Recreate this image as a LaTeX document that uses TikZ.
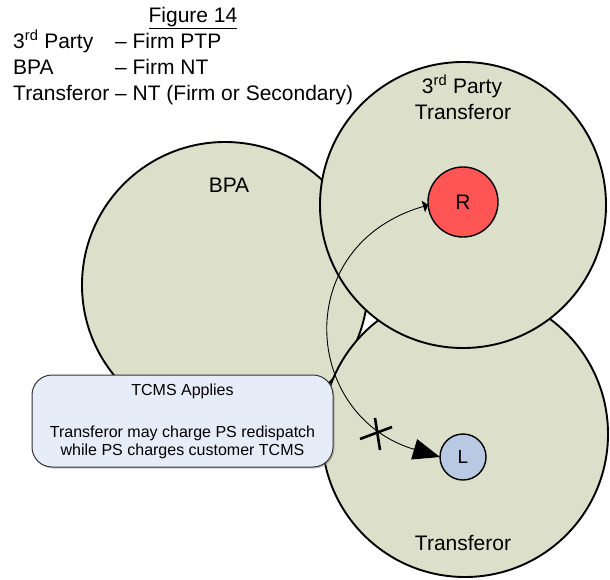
\documentclass[tikz,border=0pt]{standalone}
\usepackage{fontspec}
\setmainfont{Liberation Sans}
\usetikzlibrary{arrows.meta,shadows}
\definecolor{zonefill}{RGB}{220,224,202}
\definecolor{rfill}{RGB}{255,85,85}
\definecolor{lfill}{RGB}{185,201,227}
\definecolor{boxfill}{RGB}{231,237,248}
\begin{document}
\begin{tikzpicture}[x=1pt,y=-1pt,
  zone/.style={circle,draw=black,line width=1.9pt,fill=zonefill,minimum size=286pt,inner sep=0pt},
  txt/.style={font=\fontsize{21}{26}\selectfont,inner sep=0pt},
  small/.style={font=\fontsize{16}{18}\selectfont},
  pt/.style={circle,draw=black,line width=1.4pt,inner sep=0pt},
  callout/.style={rounded corners=20pt,draw=black!80,line width=1pt,fill=boxfill,
    minimum width=301pt,minimum height=92pt,align=center,
    drop shadow={shadow xshift=1.5pt,shadow yshift=-1.5pt,opacity=0.45}},
  conn/.style={line width=0.9pt},
  xmark/.style={line width=2.6pt}
]
\useasboundingbox (0,0) rectangle (610,579);

% zones
\node[zone] (bpa) at (225,285) {};
\node[zone] (tr) at (465,434) {};
\node[zone] (tp) at (463,205) {};

% legend text
\node[txt,anchor=base] (fig) at (193,22) {\underline{Figure 14}};
\node[txt,anchor=base west] (k1) at (13,48) {\rlap{3\textsuperscript{rd} Party}\phantom{Transferor }– Firm PTP};
\node[txt,anchor=base west] (k2) at (13,74) {\rlap{BPA}\phantom{Transferor }– Firm NT};
\node[txt,anchor=base west] (k3) at (13,100) {Transferor – NT (Firm or Secondary)};

% zone labels
\node[txt,anchor=base] (bpal) at (229,192) {BPA};
\node[txt,anchor=base] (tpa) at (462,93) {3\textsuperscript{rd} Party};
\node[txt,anchor=base] (tpb) at (463,119) {Transferor};
\node[txt,anchor=base] (trl) at (463,550) {Transferor};

% connector
\draw[conn,{Triangle[length=5pt,width=12pt]}-{Triangle[length=27pt,width=21pt]}]
  (463,202) ++(185:35pt) coordinate (rs) (rs) .. controls (290,245) and (302,416) .. (440,457) coordinate (le);

% points
\node[pt,fill=rfill,minimum size=70pt,font=\fontsize{21}{24}\selectfont] (R) at (463,202) {R};
\node[pt,fill=lfill,minimum size=46pt,font=\fontsize{19}{22}\selectfont] (L) at (463,457) {L};

% cross
\coordinate (x1) at (360,439);
\coordinate (x2) at (392,427);
\coordinate (x3) at (375,418);
\coordinate (x4) at (380,450);
\draw[xmark] (x1) -- (x2) (x3) -- (x4);

% callout
\node[callout,small] (tcms) at (182.5,421) {TCMS Applies\\[24pt]Transferor may charge PS redispatch\\while PS charges customer TCMS};
\end{tikzpicture}
\end{document}
